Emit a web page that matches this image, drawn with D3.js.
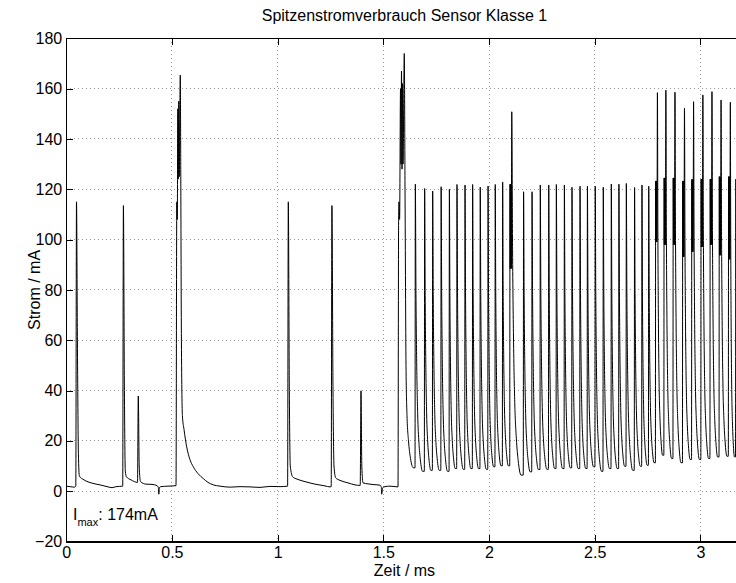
<!doctype html>
<html>
<head>
<meta charset="utf-8">
<title>Spitzenstromverbrauch Sensor Klasse 1</title>
<style>
* {padding:0;margin:0}
body {background:#fff}
svg {display:block}
text {font-family:"Liberation Sans", Arial, Helvetica, sans-serif}
</style>
</head>
<body>
<div id="chart"></div>
<script src="https://d3js.org/d3.v7.min.js"></script>
<script>

// tick labels
const xTicks = [0, 0.5, 1, 1.5, 2, 2.5, 3];
const yTicks = [-20, 0, 20, 40, 60, 80, 100, 120, 140, 160, 180];

// slow part of the trace (0 .. 1.64 ms), read point by point
const leftT = [0, 0.018, 0.039, 0.0454, 0.0487, 0.053, 0.0577, 0.0624, 0.0842, 0.122,
	0.160, 0.198, 0.217, 0.236, 0.2673, 0.2706, 0.2753, 0.2796, 0.2852, 0.3065,
	0.3373, 0.341, 0.3453, 0.3515, 0.3775, 0.4059, 0.4295, 0.4357, 0.438, 0.4413,
	0.4484, 0.4815, 0.5194, 0.5232, 0.5255, 0.528, 0.530, 0.5326, 0.535, 0.5374,
	0.5397, 0.542, 0.545, 0.5497, 0.5573, 0.570, 0.5856, 0.6012, 0.6235, 0.6485,
	0.6708, 0.6958, 0.7275, 0.7758, 0.822, 0.8694, 0.9167, 0.964, 1.0114, 1.0473,
	1.0506, 1.0554, 1.060, 1.0714, 1.0918, 1.1296, 1.1769, 1.2242, 1.2479, 1.2535,
	1.2569, 1.262, 1.2668, 1.2748, 1.2952, 1.333, 1.3661, 1.3907, 1.3945, 1.3983,
	1.404, 1.4276, 1.456, 1.4844, 1.4905, 1.4924, 1.4962, 1.508, 1.5317, 1.5695,
	1.5724, 1.5743, 1.5771, 1.5814, 1.5837, 1.5861, 1.5885, 1.5908, 1.5932, 1.5993,
	1.6027, 1.6074, 1.6121, 1.6192, 1.6287, 1.6419];
const leftI = [2.0, 1.8, 1.6, 2.0, 115, 60, 15, 6, 4.5, 3.2,
	2.5, 1.7, 1.4, 1.8, 2.0, 113.5, 40, 8, 5.7, 4.5,
	3.5, 37.8, 10, 3.8, 2.8, 2.7, 2.2, 1.5, -1.2, 1.5,
	1.8, 2.0, 2.2, 115, 108, 152, 124, 155, 125, 150,
	165.4, 125, 60, 30, 24.5, 17.6, 12.5, 9.7, 7, 5,
	3.5, 2.5, 2.0, 1.6, 1.8, 1.7, 1.5, 1.9, 1.8, 2.0,
	115, 40, 10, 5.7, 4.8, 3.8, 2.8, 2.1, 1.7, 1.8,
	113.5, 40, 10, 5.3, 4.3, 3.3, 2.5, 2.3, 39.9, 10,
	3.3, 2.9, 2.6, 2.4, 1.6, -1.2, 1.3, 1.8, 2.0, 1.7,
	108, 115, 108, 160, 130, 167, 128, 162, 130, 174,
	120, 50, 30, 20, 13, 9.3];

// pulse train (1.65 .. 3.2 ms): start of each pulse, its peak, the
// minimum reached before the next pulse, and for the double pulses
// the band in which the current jumps before the sharp peak
const pulseT = [1.650, 1.694, 1.732, 1.772, 1.811, 1.847, 1.885, 1.921, 1.957, 1.994,
	2.028, 2.063, 2.098, 2.162, 2.202, 2.241, 2.281, 2.317, 2.355, 2.391,
	2.429, 2.464, 2.501, 2.539, 2.577, 2.613, 2.648, 2.687, 2.722, 2.754,
	2.787, 2.827, 2.870, 2.915, 2.958, 3.002, 3.045, 3.088, 3.132, 3.166];
const pulsePeak = [122, 120.3, 119.3, 121, 120, 121.9, 121.7, 121.9, 120.8, 121.3,
	121.9, 122.9, 150.8, 119, 119, 121.7, 121.7, 121.9, 121.7, 120.8,
	121.2, 121.2, 121.2, 120.8, 122.1, 122, 122.3, 120.7, 121.7, 121.2,
	158.4, 159.4, 158.6, 152.2, 154.8, 157.5, 158.8, 155.5, 154.6, 124];
const pulseFloor = [7.9, 8.3, 8.3, 7.9, 9.0, 8.7, 9.0, 9.0, 8.7, 9.7,
	10.1, 10.1, 6.4, 7.7, 8.6, 8.7, 9.0, 9.0, 9.3, 9.0,
	9.0, 9.7, 7.9, 9.0, 9.0, 9.9, 8.3, 9.9, 10.3, 11.3,
	14.3, 13.0, 11.3, 12.6, 12.6, 13.0, 13.6, 13.9, 13.6, 13.0];
const pulseHi = [null, null, null, null, null, null, null, null, null, null,
	null, null, 122, null, null, null, null, null, null, null,
	null, null, null, null, null, null, null, null, null, null,
	123.3, 124.5, 124.5, 123.3, 123.9, 124, 124, 125, 125, null];
const pulseLo = [null, null, null, null, null, null, null, null, null, null,
	null, null, 88.5, null, null, null, null, null, null, null,
	null, null, null, null, null, null, null, null, null, null,
	99.1, 98, 98, 93.2, 95.2, 97.1, 98, 93.8, 92.2, null];

// shape of one decay, read from the pulses: position inside the gap
// to the next pulse and remaining share of (peak - floor)
const decayPos = [0, 0.07, 0.15, 0.26, 0.4, 0.56, 0.8];
const decayFrac = [1, 0.62, 0.38, 0.2, 0.1, 0.04, 0];

const W = 736, H = 583;
const x = d3.scaleLinear().domain([0, 3.2]).range([66.2, 742.7]);
const y = d3.scaleLinear().domain([-20, 180]).range([541.5, 38.3]);

// assemble trace
const trace = leftT.map(function(t, i) { return [t, leftI[i]]; });
let prevFloor = leftI[leftI.length - 1];
pulseT.forEach(function(r, i) {
	trace.push([r, prevFloor]);
	let tp;
	if (pulseHi[i] !== null) {
		for (let k = 1; k <= 7; k++) {
			trace.push([r + k * 0.0012, k % 2 ? pulseHi[i] : pulseLo[i]]);
		}
		tp = r + 0.0096;
	} else {
		tp = r + 0.0015;
	}
	trace.push([tp, pulsePeak[i]]);
	const next = i + 1 < pulseT.length ? pulseT[i + 1] : r + 0.036;
	const gap = next - tp;
	for (let j = 1; j < decayPos.length; j++) {
		trace.push([tp + decayPos[j] * gap, pulseFloor[i] + decayFrac[j] * (pulsePeak[i] - pulseFloor[i])]);
	}
	prevFloor = pulseFloor[i];
});

const svg = d3.select("#chart").append("svg")
	.attr("width", W)
	.attr("height", H);

svg.append("defs").append("clipPath")
	.attr("id", "clip")
	.append("rect")
	.attr("x", x(0)).attr("y", y(180))
	.attr("width", x(3.2) - x(0))
	.attr("height", y(-20) - y(180));

// dotted grid
const grid = svg.append("g")
	.attr("stroke", "#9a9a9a")
	.attr("stroke-width", 1)
	.attr("stroke-dasharray", "1,3")
	.attr("shape-rendering", "crispEdges");
grid.selectAll("line.gx").data(xTicks).enter()
	.append("line").attr("class", "gx")
	.attr("x1", function(d) { return x(d); })
	.attr("x2", function(d) { return x(d); })
	.attr("y1", y(180)).attr("y2", y(-20));
grid.selectAll("line.gy").data(yTicks).enter()
	.append("line").attr("class", "gy")
	.attr("x1", x(0)).attr("x2", x(3.2))
	.attr("y1", function(d) { return y(d); })
	.attr("y2", function(d) { return y(d); });

// current trace
const line = d3.line()
	.x(function(d) { return x(d[0]); })
	.y(function(d) { return y(d[1]); })
	.curve(d3.curveMonotoneX);

svg.append("g").attr("clip-path", "url(#clip)")
	.append("path")
	.datum(trace)
	.attr("fill", "none")
	.attr("stroke", "#000")
	.attr("stroke-width", 1)
	.attr("stroke-linejoin", "round")
	.attr("d", line);

// axes, ticks pointing inwards like matlab
const fmt = function(d) { return String(d).replace("-", "\u2212"); };

const xAxis = svg.append("g")
	.attr("transform", "translate(0," + y(-20) + ")")
	.call(d3.axisBottom(x).tickValues(xTicks).tickFormat(fmt)
		.tickSizeInner(-7).tickSizeOuter(0).tickPadding(5));
const topAxis = svg.append("g")
	.attr("transform", "translate(0," + y(180) + ")")
	.call(d3.axisTop(x).tickValues(xTicks).tickFormat("")
		.tickSizeInner(-7).tickSizeOuter(0));
const yAxis = svg.append("g")
	.attr("transform", "translate(" + x(0) + ",0)")
	.call(d3.axisLeft(y).tickValues(yTicks).tickFormat(fmt)
		.tickSizeInner(-7).tickSizeOuter(0).tickPadding(4));

[xAxis, topAxis, yAxis].forEach(function(g) {
	g.attr("font-size", 16)
		.attr("font-family", "'Liberation Sans', Arial, Helvetica, sans-serif");
	g.selectAll("text").attr("fill", "#000");
	g.selectAll("line, path").attr("stroke", "#000").attr("shape-rendering", "crispEdges");
});

svg.append("rect")
	.attr("x", x(0)).attr("y", y(180))
	.attr("width", x(3.2) - x(0))
	.attr("height", y(-20) - y(180))
	.attr("fill", "none")
	.attr("stroke", "#000")
	.attr("shape-rendering", "crispEdges");

// labels
svg.append("text")
	.attr("x", (x(0) + x(3.2)) / 2)
	.attr("y", 21)
	.attr("text-anchor", "middle")
	.attr("font-size", 16)
	.text("Spitzenstromverbrauch Sensor Klasse 1");

svg.append("text")
	.attr("x", (x(0) + x(3.2)) / 2)
	.attr("y", 576)
	.attr("text-anchor", "middle")
	.attr("font-size", 16)
	.text("Zeit / ms");

svg.append("text")
	.attr("transform", "translate(40," + (y(180) + y(-20)) / 2 + ") rotate(-90)")
	.attr("text-anchor", "middle")
	.attr("font-size", 16)
	.text("Strom / mA");

const note = svg.append("text")
	.attr("x", 73)
	.attr("y", 520)
	.attr("font-size", 16);
note.append("tspan").text("I");
note.append("tspan").attr("font-size", 11).attr("dy", 5.5).text("max");
note.append("tspan").attr("dy", -5.5).text(": 174mA");

</script>
</body>
</html>
